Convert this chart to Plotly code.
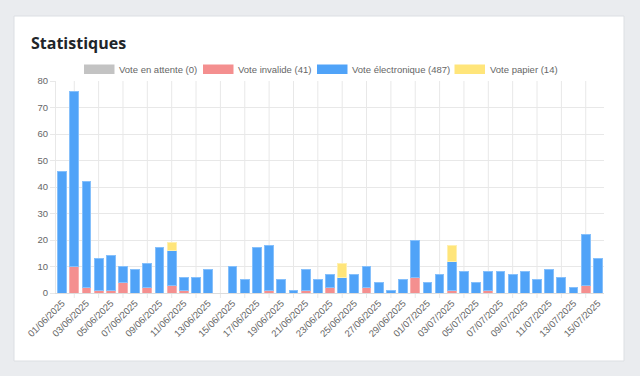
import plotly.graph_objects as go

# ---------------- data ----------------
dates = [
    "01/06/2025", "02/06/2025", "03/06/2025", "04/06/2025", "05/06/2025", "06/06/2025",
    "07/06/2025", "08/06/2025", "09/06/2025", "10/06/2025", "11/06/2025", "12/06/2025",
    "13/06/2025", "14/06/2025", "15/06/2025", "16/06/2025", "17/06/2025", "18/06/2025",
    "19/06/2025", "20/06/2025", "21/06/2025", "22/06/2025", "23/06/2025", "24/06/2025",
    "25/06/2025", "26/06/2025", "27/06/2025", "28/06/2025", "29/06/2025", "30/06/2025",
    "01/07/2025", "02/07/2025", "03/07/2025", "04/07/2025", "05/07/2025", "06/07/2025",
    "07/07/2025", "08/07/2025", "09/07/2025", "10/07/2025", "11/07/2025", "12/07/2025",
    "13/07/2025", "14/07/2025", "15/07/2025",
]
vote_attente = [0, 0, 0, 0, 0, 0, 0, 0, 0, 0, 0, 0, 0, 0, 0, 0, 0, 0, 0, 0, 0, 0, 0,
                0, 0, 0, 0, 0, 0, 0, 0, 0, 0, 0, 0, 0, 0, 0, 0, 0, 0, 0, 0, 0, 0]
vote_invalide = [0, 10, 2, 1, 1, 4, 0, 2, 0, 3, 1, 0, 0, 0, 0, 0, 0, 1, 0, 0, 1, 0, 2,
                 0, 0, 2, 0, 0, 0, 6, 0, 0, 1, 0, 0, 1, 0, 0, 0, 0, 0, 0, 0, 3, 0]
vote_electronique = [46, 66, 40, 12, 13, 6, 9, 9, 17, 13, 5, 6, 9, 0, 10, 5, 17, 17, 5, 1, 8, 5, 5,
                     6, 7, 8, 4, 1, 5, 14, 4, 7, 11, 8, 4, 7, 8, 7, 8, 5, 9, 6, 2, 19, 13]
vote_papier = [0, 0, 0, 0, 0, 0, 0, 0, 0, 3, 0, 0, 0, 0, 0, 0, 0, 0, 0, 0, 0, 0, 0,
               5, 0, 0, 0, 0, 0, 0, 0, 0, 6, 0, 0, 0, 0, 0, 0, 0, 0, 0, 0, 0, 0]

series_names = ["Vote en attente", "Vote invalide", "Vote électronique", "Vote papier"]
series_values = [vote_attente, vote_invalide, vote_electronique, vote_papier]
y_ticks = [0, 10, 20, 30, 40, 50, 60, 70, 80]

# ---------------- style ----------------
colors = ["#c3c3c3", "#f48f8f", "#50a3f8", "#ffe57a"]
edge_colors = ["#d6d6d6", "#f8b0b0", "#86c0fb", "#fff0b0"]
W, H = 640, 376
PL, PR, PT, PB = 56, 604, 81, 293  # plot area in pixels
GRID = "#e8e8e8"
TXT = "#666666"
FONT = "Liberation Sans, Arial, sans-serif"


def px(x):
    return (x - PL) / (PR - PL)


def py(y):
    return (PB - y) / (PB - PT)


fig = go.Figure()
for name, vals, c, ec in zip(series_names, series_values, colors, edge_colors):
    fig.add_trace(go.Bar(
        x=dates, y=vals, name=name,
        marker=dict(color=c, line=dict(color=ec, width=[1 if v else 0 for v in vals])),
        showlegend=False,
    ))

shapes = []
# page card
shapes.append(dict(type="rect", xref="paper", yref="paper",
                   x0=px(14), x1=px(624), y0=py(361), y1=py(16),
                   fillcolor="white", line=dict(color="#dcdfe3", width=1), layer="below"))
# vertical grid lines (between labelled ticks, Chart.js style)
for i in range(1, len(dates), 2):
    shapes.append(dict(type="line", xref="x", yref="paper",
                       x0=dates[i], x1=dates[i], y0=py(PB + 5), y1=1,
                       line=dict(color=GRID, width=1), layer="below"))

annotations = [dict(text="<b>Statistiques</b>", xref="paper", yref="paper",
                    x=px(29), y=py(43), xanchor="left", yanchor="middle", showarrow=False,
                    font=dict(family="Open Sans, sans-serif", size=16, color="#212529"))]

# custom legend (Chart.js style wide boxes)
legend_box_x = [84, 203, 317, 454.5]
for name, vals, c, bx in zip(series_names, series_values, colors, legend_box_x):
    shapes.append(dict(type="rect", xref="paper", yref="paper",
                       x0=px(bx), x1=px(bx + 30.5), y0=py(74), y1=py(64.5),
                       fillcolor=c, line=dict(width=0), layer="above"))
    annotations.append(dict(text=f"{name} ({sum(vals)})", xref="paper", yref="paper",
                            x=px(bx + 33), y=py(69.5), xanchor="left", yanchor="middle",
                            showarrow=False, font=dict(family=FONT, size=9.5, color=TXT)))

fig.update_layout(
    width=W, height=H,
    margin=dict(l=PL, r=W - PR, t=PT, b=H - PB, pad=0),
    paper_bgcolor="#eaecef",
    plot_bgcolor="rgba(0,0,0,0)",
    barmode="stack",
    bargap=0.28,
    shapes=shapes,
    annotations=annotations,
    showlegend=False,
    font=dict(family=FONT, size=9.5, color=TXT),
)
fig.update_xaxes(
    type="category",
    tickmode="array", tickvals=dates[::2], ticktext=dates[::2],
    tickangle=-45, showgrid=False,
    showline=True, linecolor="#dddddd", linewidth=1,
    ticks="", tickfont=dict(family=FONT, size=9.5, color=TXT),
)
fig.update_yaxes(
    range=[0, 80], tickmode="array", tickvals=y_ticks,
    showgrid=True, gridcolor=GRID, gridwidth=1, zeroline=False,
    showline=True, linecolor=GRID, linewidth=1,
    ticks="outside", ticklen=5, tickcolor=GRID,
    tickfont=dict(family=FONT, size=9.5, color=TXT),
)

fig.write_html("out.html", config={"displayModeBar": False},
               post_script="document.body.style.margin='0';")
